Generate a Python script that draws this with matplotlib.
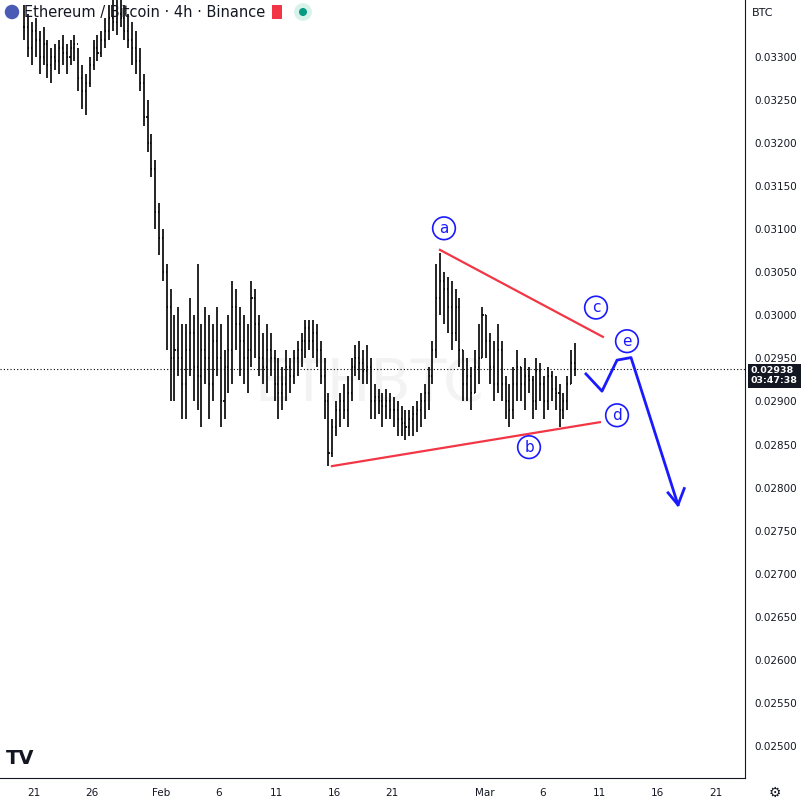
import numpy as np
import matplotlib.pyplot as plt
from matplotlib.patches import FancyBboxPatch

# 8h bars from Jan 20 2023 (day index 19, Jan 1 = 0); prices x 1e-5
highs = [3360,3350,3340, 3345,3330,3335, 3320,3310,3315, 3320,3325,3315, 3320,3325,3310,
         3290,3280,3300, 3320,3325,3330, 3345,3360,3366, 3366,3366,3360, 3350,3340,3330,
         3310,3280,3250, 3210,3180,3130, 3100,3060,3030, 3000,3010,2990, 2990,3020,3000,
         3060,2990,3010, 3000,2990,3010, 2990,2960,3000, 3040,3030,3010, 3000,2990,3040,
         3030,3000,2980, 2990,2980,2960, 2950,2940,2960, 2950,2960,2970, 2980,2995,2995,
         2995,2990,2970, 2950,2910,2880, 2900,2910,2920, 2930,2950,2965, 2970,2960,2965,
         2950,2920,2915, 2910,2915,2910, 2905,2900,2895, 2890,2890,2895, 2900,2910,2920,
         2940,2970,3060, 3072,3050,3045, 3040,3030,3020, 2960,2950,2940, 2960,2990,3010,
         3000,2980,2970, 2990,2970,2930, 2920,2940,2960, 2940,2950,2940, 2930,2950,2945,
         2930,2940,2935, 2930,2920,2910, 2930,2960,2968]
lows = [3320,3300,3290, 3300,3280,3290, 3275,3270,3285, 3280,3290,3280, 3290,3295,3260,
        3240,3232,3265, 3285,3295,3300, 3310,3320,3330, 3325,3335,3320, 3310,3290,3280,
        3260,3220,3190, 3160,3100,3070, 3040,2960,2900, 2900,2930,2880, 2880,2930,2900,
        2890,2870,2920, 2880,2900,2930, 2870,2880,2910, 2920,2960,2930, 2920,2910,2940,
        2950,2930,2920, 2910,2930,2900, 2880,2890,2900, 2910,2920,2930, 2940,2950,2960,
        2950,2940,2920, 2880,2825,2835, 2860,2870,2880, 2870,2900,2930, 2925,2920,2920,
        2880,2880,2885, 2870,2880,2880, 2870,2860,2860, 2855,2860,2860, 2865,2870,2880,
        2890,2920,2950, 3000,2990,2980, 2960,2970,2940, 2900,2900,2890, 2910,2920,2950,
        2950,2920,2900, 2910,2900,2880, 2870,2880,2900, 2900,2890,2910, 2880,2890,2900,
        2880,2890,2900, 2890,2870,2880, 2890,2920,2930]
closes = [3335,3310,3330, 3320,3300,3315, 3290,3300,3295, 3310,3305,3300, 3310,3315,3275,
          3260,3270,3290, 3310,3305,3320, 3330,3345,3340, 3350,3345,3330, 3320,3310,3295,
          3270,3230,3200, 3170,3120,3090, 3050,3010,2950, 2960,2950,2920, 2960,2980,2940,
          2930,2960,2950, 2920,2970,2950, 2900,2940,2960, 3010,2990,2970, 2950,2960,3020,
          2990,2950,2940, 2960,2950,2920, 2910,2920,2940, 2930,2950,2960, 2970,2985,2970,
          2980,2960,2930, 2900,2840,2870, 2890,2900,2890, 2910,2940,2950, 2945,2935,2940,
          2900,2905,2900, 2895,2900,2890, 2890,2880,2875, 2870,2880,2885, 2890,2900,2910,
          2930,2960,3020, 3040,3030,3010, 2980,3010,2960, 2920,2930,2910, 2940,2950,3000,
          2970,2940,2920, 2960,2920,2900, 2890,2920,2940, 2920,2930,2925, 2900,2935,2920,
          2900,2930,2915, 2910,2890,2900, 2920,2945,2938]
last_price = 0.02938

# triangle lines and projected path: (day, price)
upper_line = [(55.15, 0.03076), (69.26, 0.02975)]
lower_line = [(45.8, 0.02825), (69.0, 0.02876)]
path_days = [67.79, 69.18, 70.48, 71.69, 75.76]
path_prices = [0.02932, 0.02912, 0.02948, 0.02951, 0.02780]
wave_labels = ['a', 'b', 'c', 'd', 'e']
wave_days = [55.5, 62.86, 68.66, 70.48, 71.34]
wave_prices = [0.03101, 0.02847, 0.03009, 0.02884, 0.02970]

date_days = [20, 25, 31, 36, 41, 46, 51, 59, 64, 69, 74, 79]
date_labels = ['21', '26', 'Feb', '6', '11', '16', '21', 'Mar', '6', '11', '16', '21']
price_ticks = np.arange(0.0250, 0.03301, 0.0005)

fig = plt.figure(figsize=(8.03, 8.05), dpi=100)
ax = fig.add_axes([0, 27/805, 745/803, 778/805])
ymin, ymax = 0.02463, 0.03366

h = np.array(highs) * 1e-5
l = np.array(lows) * 1e-5
c = np.array(closes) * 1e-5
o = np.concatenate([[c[0]], c[:-1]])
x = 19 + np.arange(len(h)) / 3 + 1/6
w = 0.09
ax.vlines(x, l, h, color='black', lw=1.2)
ax.hlines(o, x - w, x, color='black', lw=1.2)
ax.hlines(c, x, x + w, color='black', lw=1.2)

ax.axhline(last_price, color='black', lw=0.8, ls=(0, (1, 2)))
ax.text(49, 0.0292, 'ETHBTC', fontsize=42, color='#f3f3f3', ha='center', va='center', zorder=0)

red = '#f23645'
for ln in (upper_line, lower_line):
    ax.plot([p[0] for p in ln], [p[1] for p in ln], color=red, lw=1.6)
blue = '#1a1aff'
ax.plot(path_days, path_prices, color=blue, lw=2)
ax.plot([74.9, 75.76, 76.3], [0.02794, 0.02780, 0.02799], color=blue, lw=2)
for lab, d, p in zip(wave_labels, wave_days, wave_prices):
    ax.text(d, p, lab, color=blue, fontsize=11, ha='center', va='center',
            bbox=dict(boxstyle='circle,pad=0.25', fc='white', ec=blue, lw=1.2))

ax.set_xlim(17.06, 81.56)
ax.set_ylim(ymin, ymax)
ax.yaxis.tick_right()
ax.set_yticks(price_ticks)
ax.set_yticklabels([f'{v:.5f}' for v in price_ticks], fontsize=7.5, color='#131722')
ax.set_xticks(date_days)
ax.set_xticklabels(date_labels, fontsize=7.5, color='#131722')
ax.tick_params(length=0, pad=7)
for s in ['top', 'left']:
    ax.spines[s].set_visible(False)
ax.spines['right'].set_color('#131722')
ax.spines['bottom'].set_color('#131722')

# last price tag
ax.text(1.008, (last_price - ymin) / (ymax - ymin) - 0.009, '0.02938\n03:47:38',
        transform=ax.transAxes, fontsize=6.8, color='white', fontweight='bold', va='center', ha='left',
        linespacing=1.1, bbox=dict(boxstyle='square,pad=0.3', fc='#131722', ec='none'), clip_on=False)

fig.text(24/803, 1 - 12/805, 'Ethereum / Bitcoin · 4h · Binance', fontsize=10.5, color='#131722',
         va='center', ha='left')
fig.patches.append(plt.Circle((12/803, 1 - 12/805), 0.009, transform=fig.transFigure,
                              fc='#4a5bb5', ec='none'))
fig.patches.append(plt.Circle((303/803, 1 - 12/805), 0.011, transform=fig.transFigure,
                              fc='#d6f2ea', ec='none'))
fig.patches.append(plt.Circle((303/803, 1 - 12/805), 0.005, transform=fig.transFigure,
                              fc='#089981', ec='none'))
fig.patches.append(FancyBboxPatch((272/803, 1 - 19/805), 10/803, 14/805, boxstyle='square,pad=0',
                                  transform=fig.transFigure, fc=red, ec='none'))
fig.text(752/803, 1 - 13/805, 'BTC', fontsize=8, color='#131722', va='center')
fig.text(775/803, 12/805, '⚙', fontsize=10, color='#131722', ha='center', va='center')
fig.text(6/803, 47/805, 'TV', fontsize=14, fontweight='bold', color='#131722', va='center')

fig.savefig('out.png', dpi=100, facecolor='white')
